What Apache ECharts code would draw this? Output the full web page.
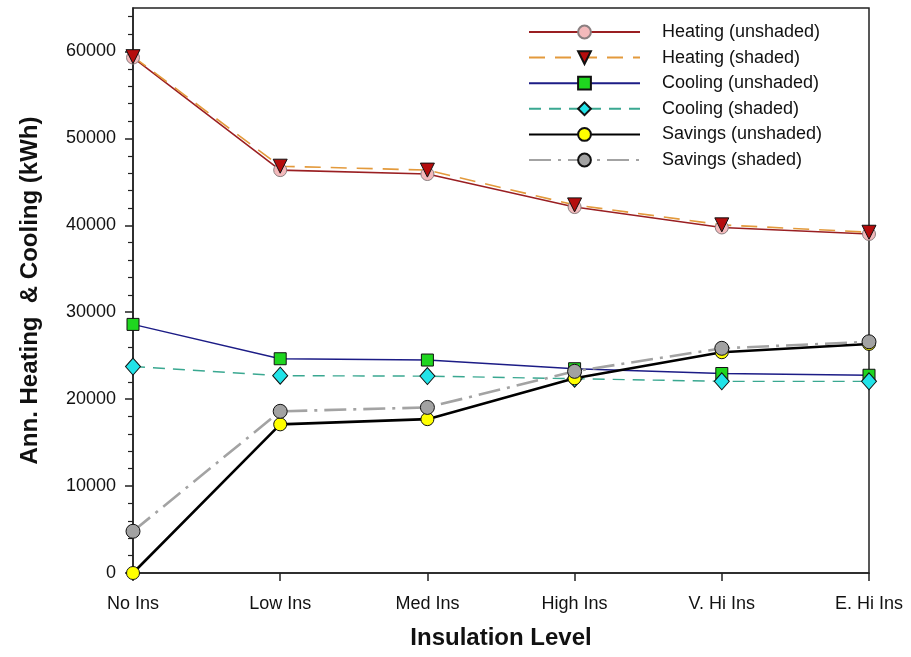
<!DOCTYPE html>
<html>
<head>
<meta charset="utf-8">
<script src="https://cdn.jsdelivr.net/npm/echarts@6/dist/echarts.min.js"></script>
<style>html,body{margin:0;padding:0;background:#fff}#c{width:911px;height:657px}</style>
</head>
<body>
<div id="c"></div>
<script>
const categories = ['No Ins', 'Low Ins', 'Med Ins', 'High Ins', 'V. Hi Ins', 'E. Hi Ins'];
const heatingUnshaded = [59300, 46350, 45900, 42100, 39750, 39000];
const heatingShaded   = [59400, 46800, 46350, 42350, 40050, 39200];
const coolingUnshaded = [28600, 24650, 24500, 23500, 22950, 22750];
const coolingShaded   = [23750, 22700, 22650, 22350, 22050, 22050];
const savingsUnshaded = [0, 17100, 17700, 22400, 25400, 26350];
const savingsShaded   = [4800, 18600, 19050, 23200, 25850, 26600];
const yTicks = [0, 10000, 20000, 30000, 40000, 50000, 60000];
const yMinorTicks = [2000, 4000, 6000, 8000, 12000, 14000, 16000, 18000, 22000, 24000, 26000, 28000,
  32000, 34000, 36000, 38000, 42000, 44000, 46000, 48000, 52000, 54000, 56000, 58000, 62000, 64000];

const font = 'Liberation Sans, Arial, sans-serif';
const chart = echarts.init(document.getElementById('c'), null, {renderer: 'canvas'});
function mk(name, data, line, sym) {
  return Object.assign({
    name: name, type: 'line', data: data, showAllSymbol: true,
    lineStyle: line, animation: false, z: 3
  }, sym);
}
chart.setOption({
  backgroundColor: '#fff',
  animation: false,
  grid: {left: 133, right: 42, top: 8, bottom: 84, show: true, borderColor: '#222', borderWidth: 1.5, backgroundColor: 'transparent'},
  legend: {
    left: 523, top: 18, orient: 'vertical', itemWidth: 111, itemHeight: 16, itemGap: 7.6,
    textStyle: {fontFamily: font, fontSize: 18, color: '#111', padding: [0, 0, 0, 17]},
    symbolRotate: 'inherit',
    data: ['Heating (unshaded)', 'Heating (shaded)', 'Cooling (unshaded)', 'Cooling (shaded)', 'Savings (unshaded)', 'Savings (shaded)']
  },
  xAxis: {
    type: 'category', data: categories, boundaryGap: false,
    name: 'Insulation Level', nameLocation: 'middle', nameGap: 53,
    nameTextStyle: {fontFamily: font, fontSize: 24, fontWeight: 'bold', color: '#111'},
    axisLine: {lineStyle: {color: '#222', width: 1.5}},
    axisTick: {length: 8, lineStyle: {color: '#222', width: 1.5}},
    axisLabel: {fontFamily: font, fontSize: 18, color: '#111', margin: 22},
    splitLine: {show: false}
  },
  yAxis: [{
    type: 'value', min: 0, max: 65000, interval: 10000,
    name: 'Ann. Heating  & Cooling (kWh)', nameLocation: 'middle', nameGap: 91,
    nameTextStyle: {fontFamily: font, fontSize: 24, fontWeight: 'bold', color: '#111'},
    axisLine: {show: true, lineStyle: {color: '#222', width: 1.5}},
    axisTick: {show: true, length: 8, customValues: yTicks, lineStyle: {color: '#222', width: 1.5}},
    axisLabel: {fontFamily: font, fontSize: 18, color: '#111', margin: 17, customValues: yTicks,
      formatter: function (v) { return String(v); }},
    splitLine: {show: false}
  }, {
    type: 'value', min: 0, max: 65000, position: 'left',
    axisLine: {show: false},
    axisTick: {show: true, length: 5, customValues: yMinorTicks, lineStyle: {color: '#222', width: 1.2}},
    axisLabel: {show: false},
    splitLine: {show: false}
  }],
  series: [
    mk('Heating (unshaded)', heatingUnshaded, {color: '#9a1f22', width: 1.6},
       {symbol: 'circle', symbolSize: 13, itemStyle: {color: '#f3b9bb', borderColor: '#8a7f80', borderWidth: 1}}),
    mk('Heating (shaded)', heatingShaded, {color: '#e39a3c', width: 1.6, type: [16, 10]},
       {symbol: 'triangle', symbolSize: 14, symbolRotate: 180, itemStyle: {color: '#b50d0d', borderColor: '#111', borderWidth: 1}}),
    mk('Cooling (unshaded)', coolingUnshaded, {color: '#1c1c86', width: 1.4},
       {symbol: 'rect', symbolSize: 12, itemStyle: {color: '#1fd61f', borderColor: '#111', borderWidth: 1}}),
    mk('Cooling (shaded)', coolingShaded, {color: '#3aa891', width: 1.4, type: [12, 8]},
       {symbol: 'diamond', symbolSize: [15, 17], itemStyle: {color: '#22e3e8', borderColor: '#111', borderWidth: 1}}),
    mk('Savings (unshaded)', savingsUnshaded, {color: '#000', width: 2.6},
       {symbol: 'circle', symbolSize: 13, itemStyle: {color: '#ffff00', borderColor: '#111', borderWidth: 1}}),
    mk('Savings (shaded)', savingsShaded, {color: '#a3a3a3', width: 2.6, type: [22, 7, 3, 7]},
       {symbol: 'circle', symbolSize: 14, itemStyle: {color: '#a2a2a2', borderColor: '#111', borderWidth: 1}})
  ]
});
</script>
</body>
</html>
